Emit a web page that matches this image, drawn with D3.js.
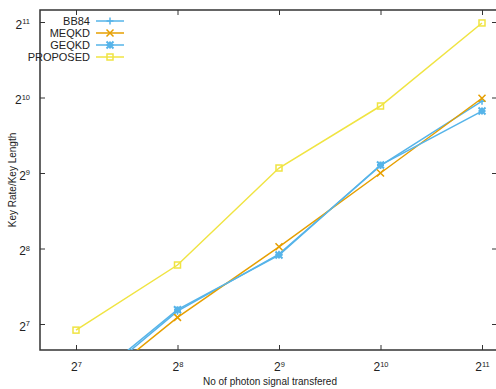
<!DOCTYPE html>
<html><head><meta charset="utf-8">
<script src="https://cdn.jsdelivr.net/npm/d3@7"></script>
<style>body{margin:0;background:#fff}svg{display:block}text{font-family:"Liberation Sans",Arial,sans-serif}</style>
</head><body>
<svg id="c" width="496" height="389"></svg>
<script>
const xExponents = [7, 8, 9, 10, 11];
const yExponents = [7, 8, 9, 10, 11];
const photons = [128, 256, 512, 1024, 2048];
const seriesNames = ["BB84", "MEQKD", "GEQKD", "PROPOSED"];
const bb84 = [66, 144, 243, 548, 990];
const meqkd = [64, 136, 260, 512, 1017];
const geqkd = [68, 146, 241, 551, 904];
const proposed = [121, 220, 536, 947, 2030];
const colors = ["#56B4E9", "#E69F00", "#56B4E9", "#F0E442"];
const markers = ["plus", "cross", "star", "square"];

const svg = d3.select("#c");
const L = 40, R = 497, T = 10, B = 350;
const x = d3.scaleLog().base(2).domain([128, 2048]).range([76, 482]);
const y = d3.scaleLog().base(2).domain([128, 2048]).range([324, 22]);

svg.append("defs").append("clipPath").attr("id", "clip")
  .append("rect").attr("x", L).attr("y", T).attr("width", R - L).attr("height", B - T);

const axCol = "#333";
function sup(sel, exps) {
  sel.selectAll(".tick text").each(function(d, i) {
    const t = d3.select(this).text("");
    t.append("tspan").text("2");
    t.append("tspan").attr("dy", "-0.55em").attr("font-size", "7.5px").text(exps[i]);
  });
}
const gx = svg.append("g").attr("transform", `translate(0,${B})`)
  .call(d3.axisBottom(x).tickValues(photons).tickSizeInner(-5).tickSizeOuter(0).tickPadding(10));
sup(gx, xExponents);
const gxt = svg.append("g").attr("transform", `translate(0,${T})`)
  .call(d3.axisTop(x).tickValues(photons).tickSizeInner(-5).tickSizeOuter(0).tickFormat(""));
const gy = svg.append("g").attr("transform", `translate(${L},0)`)
  .call(d3.axisLeft(y).tickValues(photons).tickSizeInner(-5).tickSizeOuter(0).tickPadding(10));
sup(gy, yExponents);
const gyr = svg.append("g").attr("transform", `translate(${R},0)`)
  .call(d3.axisRight(y).tickValues(photons).tickSizeInner(-5).tickSizeOuter(0).tickFormat(""));
[gx, gxt, gy, gyr].forEach(g => {
  g.select(".domain").remove();
  g.selectAll(".tick line").attr("stroke", axCol).attr("stroke-width", 1);
  g.selectAll(".tick text").attr("fill", "#222").attr("font-size", "12px")
    .attr("font-family", "'Liberation Sans',Arial,sans-serif");
});
gy.selectAll(".tick text").attr("dy", "0.5em");
gx.selectAll(".tick text").attr("dy", "0.9em");
svg.append("path").attr("d", `M${R},${T}H${L}V${B}H${R}`).attr("fill", "none")
  .attr("stroke", axCol).attr("stroke-width", 1.5);

function marker(g, type, cx, cy, col) {
  const s = 3.5;
  if (type === "plus") {
    g.append("path").attr("d", `M${cx-s},${cy}H${cx+s}M${cx},${cy-s}V${cy+s}`).attr("stroke", col).attr("stroke-width", 1.5);
  } else if (type === "cross") {
    g.append("path").attr("d", `M${cx-s},${cy-s}L${cx+s},${cy+s}M${cx-s},${cy+s}L${cx+s},${cy-s}`).attr("stroke", col).attr("stroke-width", 1.5);
  } else if (type === "star") {
    g.append("path").attr("d", `M${cx-s},${cy}H${cx+s}M${cx},${cy-s}V${cy+s}M${cx-s},${cy-s}L${cx+s},${cy+s}M${cx-s},${cy+s}L${cx+s},${cy-s}`).attr("stroke", col).attr("stroke-width", 2);
  } else {
    g.append("rect").attr("x", cx - s + 0.5).attr("y", cy - s + 0.5).attr("width", 2*s - 1).attr("height", 2*s - 1)
      .attr("fill", "none").attr("stroke", col).attr("stroke-width", 1.5);
  }
}

const allSeries = [bb84, meqkd, geqkd, proposed];
const plot = svg.append("g").attr("clip-path", "url(#clip)");
const line = d3.line().x((d, i) => x(photons[i])).y(d => y(d));
allSeries.forEach((vals, k) => {
  const g = plot.append("g");
  g.append("path").datum(vals).attr("d", line).attr("fill", "none")
    .attr("stroke", colors[k]).attr("stroke-width", 1.5);
  vals.forEach((v, i) => marker(g, markers[k], x(photons[i]), y(v), colors[k]));
});

const leg = svg.append("g");
seriesNames.forEach((n, k) => {
  const yy = 21 + k * 12;
  leg.append("text").attr("x", 90).attr("y", yy).attr("dy", "0.35em").attr("text-anchor", "end")
    .attr("font-size", "11px").attr("fill", "#222").text(n);
  leg.append("line").attr("x1", 96).attr("x2", 124).attr("y1", yy).attr("y2", yy)
    .attr("stroke", colors[k]).attr("stroke-width", 1.5);
  marker(leg, markers[k], 110, yy, colors[k]);
});

svg.append("text").attr("x", 270).attr("y", 385).attr("text-anchor", "middle")
  .attr("font-size", "10px").attr("fill", "#222").text("No of photon signal transfered");
svg.append("text").attr("transform", "translate(16,180) rotate(-90)").attr("text-anchor", "middle")
  .attr("font-size", "10px").attr("fill", "#222").text("Key Rate/Key Length");
</script>
</body></html>
